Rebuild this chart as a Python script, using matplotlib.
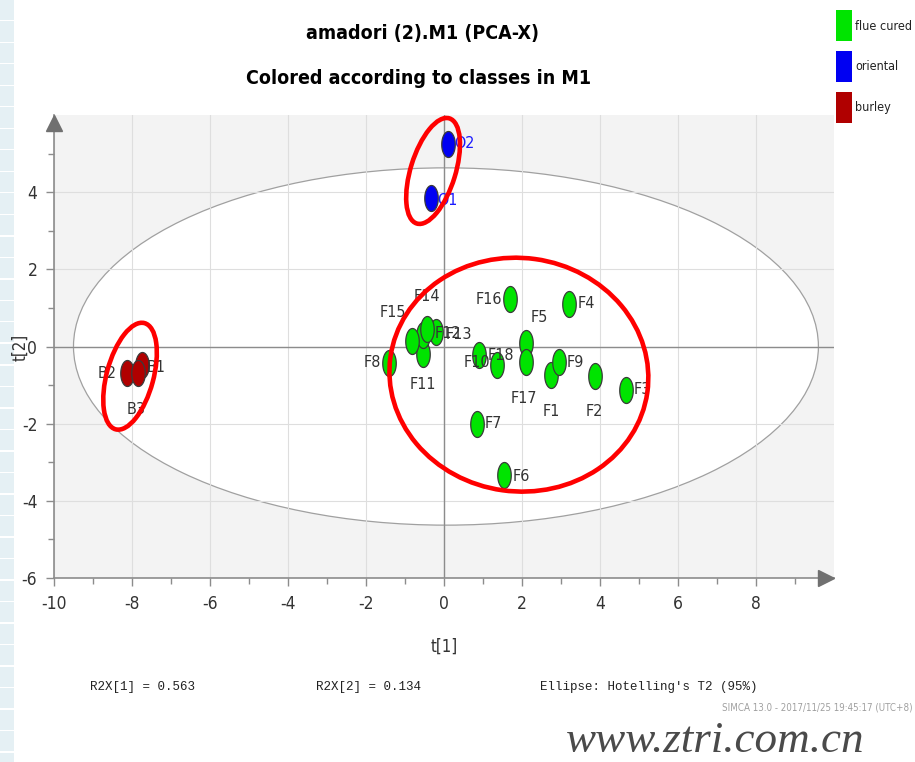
import matplotlib
matplotlib.use("Agg")
import matplotlib.pyplot as plt
import numpy as np
from matplotlib.patches import Ellipse, Rectangle
from matplotlib.path import Path
from matplotlib.transforms import offset_copy

plt.rcParams["axes.unicode_minus"] = False

NARROW = dict(family="DejaVu Sans", fontstretch="condensed")
MONO = ["Liberation Mono", "DejaVu Sans Mono"]

# PCA-X scores t[1] / t[2] per sample
flue_names = ["F1", "F2", "F3", "F4", "F5", "F6", "F7", "F8", "F9",
              "F10", "F11", "F12", "F13", "F14", "F15", "F16", "F17", "F18"]
flue_t1 = [2.74, 3.86, 4.66, 3.21, 2.09, 1.55, 0.84, -1.41, 2.94,
           0.91, -0.55, -0.55, -0.20, -0.44, -0.82, 1.69, 2.09, 1.37]
flue_t2 = [-0.75, -0.77, -1.12, 1.11, 0.08, -3.32, -2.00, -0.42, -0.41,
           -0.21, -0.20, 0.30, 0.37, 0.45, 0.13, 1.22, -0.41, -0.47]

oriental_names = ["O1", "O2"]
oriental_t1 = [-0.33, 0.09]
oriental_t2 = [3.86, 5.26]

burley_names = ["B1", "B2", "B3"]
burley_t1 = [-7.75, -8.12, -7.85]
burley_t2 = [-0.48, -0.68, -0.68]

class_names = ["flue cured", "oriental", "burley"]
class_colors = ["#00e400", "#0000f2", "#b00000"]

r2x = [0.563, 0.134]
hotelling_axes = (9.55, 4.63)   # semi-axes of the 95% T2 ellipse

x_ticks = np.arange(-10, 9, 2)
y_ticks = np.arange(-6, 5, 2)

# where each point label sits, in pixels from its point
label_offsets = {
    "F1": (0, -36), "F2": (0, -35), "F3": (17, 0), "F4": (17, 0),
    "F5": (14, 26), "F6": (17, -2), "F7": (17, 0), "F8": (-17, 0),
    "F9": (17, 0), "F10": (-3, -8), "F11": (0, -30), "F12": (25, 1),
    "F13": (23, -2), "F14": (0, 33), "F15": (-19, 29), "F16": (-21, 0),
    "F17": (-2, -36), "F18": (3, 9),
    "O1": (16, -3), "O2": (17, 0),
    "B1": (14, -2), "B2": (-20, -1), "B3": (-2, -37),
}

# tall oval marker
theta = np.linspace(0, 2 * np.pi, 80)
oval = Path(np.column_stack([0.52 * np.cos(theta), np.sin(theta)]), closed=True)

fig = plt.figure(figsize=(9.15, 7.62), dpi=100)
fig.patch.set_facecolor("white")

# pale page strip on the left edge
for y0 in np.arange(0, 762, 21.5):
    fig.patches.append(Rectangle((0, 1 - (y0 + 20) / 762), 14 / 915, 20 / 762,
                                 transform=fig.transFigure, facecolor="#e5f0f4",
                                 edgecolor="none", zorder=0))

ax = fig.add_axes([54 / 915, 1 - 578 / 762, 780 / 915, 463 / 762])
ax.set_facecolor("#f3f3f3")
ax.set_xlim(-10, 10)
ax.set_ylim(-6, 6)

ax.add_patch(Ellipse((0.05, 0), 2 * hotelling_axes[0], 2 * hotelling_axes[1],
                     facecolor="white", edgecolor="#a0a0a0", lw=0.9, zorder=0.2))
ax.set_axisbelow(True)
ax.grid(True, color="#dedede", lw=0.8)
ax.axhline(0, color="#8c8c8c", lw=1, zorder=1)
ax.axvline(0, color="#8c8c8c", lw=1, zorder=1)

groups = [
    (flue_names, flue_t1, flue_t2, class_colors[0], "#333333"),
    (oriental_names, oriental_t1, oriental_t2, class_colors[1], "#1a1aff"),
    (burley_names, burley_t1, burley_t2, class_colors[2], "#333333"),
]
for names, t1, t2, color, text_color in groups:
    ax.scatter(t1, t2, s=350, marker=oval, c=color, edgecolors="#3a3a3a",
               linewidths=0.9, zorder=3)
    for name, x, y in zip(names, t1, t2):
        ax.annotate(name, (x, y), xytext=label_offsets[name],
                    textcoords="offset pixels", ha="center", va="center",
                    fontsize=11.5, color=text_color, zorder=4, **NARROW)

# hand-drawn class outlines
red_rings = [
    ((-0.28, 4.55), 1.15, 2.85, -17),
    ((-8.05, -0.77), 1.2, 2.85, -15),
    ((1.92, -0.73), 6.65, 6.05, -8),
]
for center, w, h, ang in red_rings:
    ax.add_patch(Ellipse(center, w, h, angle=ang, facecolor="none",
                         edgecolor="#ff0000", lw=3.3, zorder=5))

ax.set_xticks(x_ticks)
ax.set_yticks(y_ticks)
ax.set_xticks(np.arange(-9, 10, 2), minor=True)
ax.set_yticks(np.arange(-5, 6, 2), minor=True)
ax.tick_params(which="major", direction="out", length=6, width=1, color="#8c8c8c",
               labelsize=12.5, labelcolor="#333333", pad=6)
ax.tick_params(which="minor", direction="out", length=4, width=1, color="#8c8c8c")
for lbl in ax.get_xticklabels() + ax.get_yticklabels():
    lbl.set_fontstretch("condensed")

for side in ("top", "right"):
    ax.spines[side].set_visible(False)
for side in ("left", "bottom"):
    ax.spines[side].set_color("#8c8c8c")
    ax.spines[side].set_linewidth(1.2)

# axis arrows
ax.plot([1], [0], marker=">", ms=12, color="#707070", clip_on=False, zorder=6,
        transform=offset_copy(ax.transAxes, fig=fig, x=-6, units="points"))
ax.plot([0], [1], marker="^", ms=12, color="#707070", clip_on=False, zorder=6,
        transform=offset_copy(ax.transAxes, fig=fig, y=-6, units="points"))

fig.text(444 / 915, 1 - 647 / 762, "t[1]", ha="center", va="center",
         fontsize=12, color="#333333", **NARROW)
fig.text(20 / 915, 1 - 347 / 762, "t[2]", ha="center", va="center",
         rotation=90, fontsize=12, color="#333333", **NARROW)

fig.text(422 / 915, 1 - 33 / 762, "amadori (2).M1 (PCA-X)", ha="center",
         va="center", fontsize=14, fontweight="bold", **NARROW)
fig.text(419 / 915, 1 - 78 / 762, "Colored according to classes in M1",
         ha="center", va="center", fontsize=14, fontweight="bold", **NARROW)

# class legend
for i, (name, color) in enumerate(zip(class_names, class_colors)):
    top = 10 + i * 41
    fig.patches.append(Rectangle((836 / 915, 1 - (top + 31) / 762), 16 / 915,
                                 31 / 762, transform=fig.transFigure,
                                 facecolor=color, edgecolor="none"))
    fig.text(855 / 915, 1 - (top + 16) / 762, name, ha="left", va="center",
             fontsize=9, color="#222222", **NARROW)

fig.text(90 / 915, 1 - 687 / 762, f"R2X[1] = {r2x[0]:.3f}", ha="left",
         va="center", fontsize=9, family=MONO, color="#222222")
fig.text(316 / 915, 1 - 687 / 762, f"R2X[2] = {r2x[1]:.3f}", ha="left",
         va="center", fontsize=9, family=MONO, color="#222222")
fig.text(540 / 915, 1 - 687 / 762, "Ellipse: Hotelling's T2 (95%)", ha="left",
         va="center", fontsize=9, family=MONO, color="#222222")
fig.text(913 / 915, 1 - 707 / 762, "SIMCA 13.0 - 2017/11/25 19:45:17 (UTC+8)",
         ha="right", va="center", fontsize=7, color="#a0a0a0", **NARROW)

fig.text(715 / 915, 1 - 741 / 762, "www.ztri.com.cn", ha="center", va="center",
         fontsize=32.5, style="italic", family=["Liberation Serif", "DejaVu Serif"],
         color="#4a4a4a")

fig.savefig("out.png", dpi=100)
